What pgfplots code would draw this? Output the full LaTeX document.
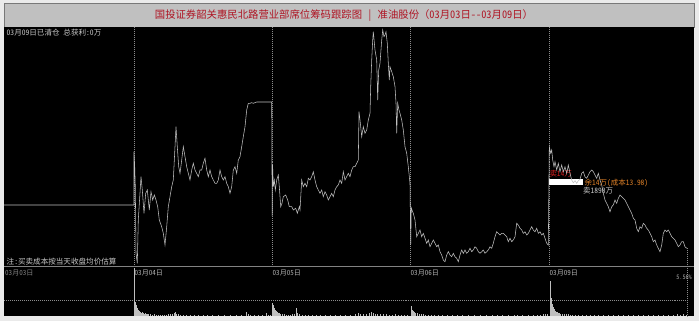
\documentclass[border=0pt]{standalone}
\usepackage{pgfplots}
\pgfplotsset{compat=1.18}
\usepackage{fontspec}
\setmainfont{Noto Sans CJK SC}[RawFeature=+hwid]
\newfontfamily\cjkfw{Noto Sans CJK SC}
\definecolor{outerbg}{RGB}{234,234,234}
\definecolor{titlebg}{RGB}{192,192,192}
\definecolor{titleframe}{RGB}{120,120,120}
\definecolor{titlered}{RGB}{175,20,35}
\definecolor{pricegray}{RGB}{192,192,192}
\definecolor{dotgray}{RGB}{140,140,140}
\definecolor{sepgray}{RGB}{130,130,130}
\definecolor{txtgray}{RGB}{200,200,200}
\definecolor{dategray}{RGB}{175,175,175}
\definecolor{dimgray}{RGB}{130,130,130}
\definecolor{volgray}{RGB}{190,190,190}
\definecolor{sellred}{RGB}{215,30,30}
\definecolor{costorange}{RGB}{225,130,40}
\begin{document}
\begin{tikzpicture}
\begin{axis}[at={(0,0)},anchor=south west,scale only axis,width=699bp,height=321bp,
  xmin=0,xmax=699,ymin=0,ymax=321,y dir=reverse,hide axis,clip=false]
\fill[outerbg] (axis cs:0,0) rectangle (axis cs:699,321);
\filldraw[fill=titlebg,draw=titleframe,line width=0.5pt] (axis cs:4,3) rectangle (axis cs:694,27);
\fill[black] (axis cs:4,27) rectangle (axis cs:694,316);
\node[text=titlered,font=\fontsize{10.4}{12}\selectfont,inner sep=0] at (axis cs:344,15.5)
  {国投证券韶关惠民北路营业部席位筹码跟踪图 | 准油股份{\cjkfw （}03月03日-{}-03月09日{\cjkfw ）}};
% separators and grid
\draw[sepgray,line width=0.6pt] (axis cs:4,266) -- (axis cs:694,266);
\draw[dotgray,line width=0.5pt,dash pattern=on 1pt off 1pt] (axis cs:134,27) -- (axis cs:134,266);
\draw[dotgray,line width=0.5pt,dash pattern=on 1pt off 1pt] (axis cs:272,27) -- (axis cs:272,266);
\draw[dotgray,line width=0.5pt,dash pattern=on 1pt off 1pt] (axis cs:410,27) -- (axis cs:410,266);
\draw[dotgray,line width=0.5pt,dash pattern=on 1pt off 1pt] (axis cs:549,27) -- (axis cs:549,266);
\draw[dotgray,line width=0.5pt,dash pattern=on 1pt off 1pt] (axis cs:687,248) -- (axis cs:687,316);
\draw[dotgray,line width=0.5pt,dash pattern=on 1pt off 1pt] (axis cs:4,300) -- (axis cs:687,300);
% sell box and label
\fill[white] (axis cs:549.3,179.3) rectangle (axis cs:583,185);
\node[anchor=west,text=sellred,font=\fontsize{7.5}{9}\selectfont,inner sep=0] at (axis cs:549.3,174) {卖14万};
% price line
\addplot[pricegray,line width=0.55pt,mark=none] coordinates {
(4,205)(134,205)(134,151.7)(134.7,166.7)(135.3,186.7)(136,253.3)(137.3,263.3)(138.3,220)(141,176.7)
(142.3,190)(144,213.3)(145.7,193.3)(147.3,190)(149.3,210)(151,191.7)(152.7,200)(154.3,195)(156,200)
(157.7,206.7)(159.3,220)(161.7,226.7)(163.3,233.3)(165,245)(166.7,226.7)(168.3,206.7)(170,196.7)
(171.7,186.7)(173.3,180)(175,146.7)(176,126.7)(177.3,146.7)(178.7,166.7)(180,173.3)(181.3,163.3)
(183.3,146.7)(185,156.7)(186.7,166.7)(188.3,173.3)(190,180)(191.7,170)(193.3,163.3)(195,170)
(196.7,173.3)(198.3,176.7)(200,170)(201.7,170)(203.3,163.3)(205,158.3)(206.7,170)(208.3,176.7)
(210,170)(211.7,176.7)(213.3,180)(215,183.3)(216.7,183.3)(218.3,180)(220,170)(221.7,176.7)
(223.3,180)(225,176.7)(226.7,183.3)(228.3,186.7)(230,193.3)(231.7,186.7)(233.3,170)(235,166.7)
(236.7,173.3)(238.3,160)(240,156.7)(241.7,146.7)(243.3,136.7)(245,126.7)(246.7,110)(248.3,103.3)
(250,103.3)(251.7,102.7)(253.3,103.3)(256.7,102)(266.7,102)(271.7,102)
(272.2,216)(272.6,165)(273.3,186.7)(274.3,180)(275.3,190)(276.7,180)(278.3,175)(279.3,186.7)
(280.7,206.7)(282,203.3)(283.3,196.7)(285.7,195)(287.7,200)(289.3,206.7)(291.7,206.7)(293.3,210)
(295.7,208.3)(297.3,213.3)(299.3,206.7)(300,210)
(301.7,180)(303.3,186.7)(305,183.3)(306.7,186.7)(308.3,178.3)(310,180)(311.7,176.7)(313.3,171.7)
(315,180)(316.7,186.7)(318.3,190)(320,193.3)(321.7,190)(323.3,196.7)(325,191.7)(326.7,195)
(328.3,200)(330,196.7)(331.7,193.3)(333.3,196.7)(335,190)(336.7,186.7)(338.3,185)(340,180)
(341.7,183.3)(343.3,171.7)(345,180)(346.7,176.7)(348.3,173.3)(350,176.7)(351.7,170)(353.3,166.7)
(355,166.7)(356.7,163.3)(358.3,160)(359,111.7)(360,120)(361.7,136.7)(363.3,126.7)(365,133.3)
(366.7,130)(368.3,120)(370,113.3)(370.7,86.7)(371.7,60)(372.7,40)(373.3,31.7)(375,50)(376.7,60)
(377.7,100)(378.7,70)(380,63.3)(381.7,40)(382.7,30)(384,36.7)(385,35)(386,31.7)(387.3,43.3)
(388.3,63.3)(389.3,80)(390,66.7)(391.7,71.7)(393.3,76.7)(395,86.7)(396,103.3)(396.7,133.3)
(397.7,103.3)(399,110)(400,113.3)(401.7,120)(403.3,130)(405,146.7)(406.7,153.3)(408.3,166.7)
(410,183.3)(410.7,245)(411.3,208)
(412,210)(413.3,213.3)(415,220)(416.7,236.7)(418.3,233.3)(420,230)(421.7,236.7)(423.3,233.3)
(425,238.3)(426.7,243.3)(428.3,240)(430,246.7)(431.7,243.3)(433.3,240)(435,243.3)(436.7,246.7)
(438.3,245)(440,251.7)(441.7,255)(443.3,260)(445,261.7)(446.7,255)(448.3,251.7)(450,255)
(451.7,256.7)(453.3,253.3)(455,256.7)(456.7,258.3)(458.3,261.7)(460,255)(461.7,250)(463.3,253.3)
(465,250)(466.7,253.3)(468.3,251.7)(470,248.3)(471.7,251.7)(473.3,250)(475,246.7)(476.7,248.3)
(478.3,251.7)(480,253.3)(481.7,251.7)(483.3,250)(485,253.3)(486.7,251.7)(488.3,250)(490,246.7)
(491.7,248.3)(493.3,243.3)(495,236.7)(496.7,231.7)(498.3,233.3)(500,235)(501.7,233.3)(503.3,233.3)
(505,235)(506.7,236.7)(508.3,241.7)(510,238.3)(511.7,241.7)(513.3,240)(515,236.7)(516.7,223.3)
(518.3,225)(520,228.3)(521.7,230)(523.3,233.3)(525,231.7)(526.7,235)(528.3,233.3)(530,230)
(531.7,226.7)(533.3,230)(535,231.7)(536.7,228.3)(538.3,233.3)(540,231.7)(541.7,235)(543.3,233.3)
(545,238.3)(546.7,243.3)(548.3,245)
(549.3,146.7)(550.7,153.3)(551.7,150)(552.7,160)(554,166.7)(555,161.7)(556.7,170)(558.3,163.3)
(560,171.7)(561.7,165)(563.3,171.7)(565,166.7)(566.7,173.3)(568.3,165)(570,173.3)(571.7,180)
(573.3,182.7)(575,180.7)(576.7,183.3)(578.3,180.7)(580,179.3)(581.7,173.3)(583.3,171.7)(585,176.7)
(586.7,178.3)(588.3,175)(590,171.7)(591.7,170)(593.3,171.7)(595,175)(596.7,178.3)(598.3,173.3)
(600,180)(601.7,185)(603.3,193.3)(605,200)(606.7,203.3)(608.3,206.7)(610,211.7)(611.7,206.7)
(613.3,205)(615,200)(616.7,203.3)(618.3,198.3)(620,195)(621.7,196.7)(623.3,198.3)(625,200)
(626.7,203.3)(628.3,206.7)(630,210)(631.7,213.3)(633.3,218.3)(635,220)(636.7,228.3)(638.3,231.7)
(640,226.7)(641.7,228.3)(643.3,223.3)(645,225)(646.7,228.3)(648.3,230)(650,233.3)(651.7,236.7)
(653.3,241.7)(655,240)(656.7,245)(658.3,248.3)(660,251.7)(661.7,245)(663.3,233.3)(665,230)
(666.7,231.7)(668.3,230)(670,233.3)(671.7,236.7)(673.3,238.3)(675,240)(676.7,243.3)(678.3,246.7)
(680,245)(681.7,241.7)(683.3,241.7)(685,246.7)(686.7,248.3)
};
% texts
\node[anchor=west,text=txtgray,font=\fontsize{7.6}{9}\selectfont,inner sep=0] at (axis cs:6.5,33) {03月09日已清仓 总获利:0万};
\node[anchor=west,text=txtgray,font=\fontsize{7.6}{9}\selectfont,inner sep=0] at (axis cs:6.5,261.5) {注:买卖成本按当天收盘均价估算};
\node[anchor=west,text=dimgray,font=\fontsize{7.1}{9}\selectfont,inner sep=0] at (axis cs:5,273) {03月03日};
\node[anchor=west,text=dategray,font=\fontsize{7.1}{9}\selectfont,inner sep=0] at (axis cs:134.5,273) {03月04日};
\node[anchor=west,text=dategray,font=\fontsize{7.1}{9}\selectfont,inner sep=0] at (axis cs:272.5,273) {03月05日};
\node[anchor=west,text=dategray,font=\fontsize{7.1}{9}\selectfont,inner sep=0] at (axis cs:410.5,273) {03月06日};
\node[anchor=west,text=dategray,font=\fontsize{7.1}{9}\selectfont,inner sep=0] at (axis cs:549.5,273) {03月09日};
\node[anchor=east,text=dategray,font=\fontsize{6.2}{8}\selectfont,inner sep=0] at (axis cs:692,277.5) {5.56\%};
\node[anchor=west,text=costorange,font=\fontsize{7.5}{9}\selectfont,inner sep=0] at (axis cs:584.5,183.5) {余14万(成本13.98)};
\node[anchor=west,text=txtgray,font=\fontsize{7.5}{9}\selectfont,inner sep=0] at (axis cs:583,190.5) {卖1898万};
\end{axis}
\begin{axis}[at={(0,5bp)},anchor=south west,scale only axis,width=699bp,height=50bp,
  xmin=0,xmax=699,ymin=0,ymax=50,hide axis,clip=false]
\addplot[ycomb,volgray,line width=0.8pt,mark=none] coordinates {
(134.5,48)(135.5,14)(136.5,11)(137.5,8)(138.5,6)(139.5,5)(140.5,4)(141.5,3)(142.5,4)(143.5,3)(144.5,2)
(145.5,3)(146.5,2)(147.5,2)(148.5,2)(150,2)(152,1.5)(154,2)(156,1)(158,1.5)(160,1)(162,1.5)(164,1)
(166,1.5)(168,2)(170,2)(172,2.5)(174,3.5)(175,4)(176,2.5)(178,2)(180,1.5)(183,1)(186,1)(190,1)
(194,0.8)(198,1)(203,0.8)(207,1)(212,0.8)(218,1)(224,0.8)(230,1)(236,1.2)(241,1.5)(246,4)(248,2.5)
(250,1)(254,1)(258,0.8)(262,1)(266,3)(268,1)(270,1)
(272.5,13)(273.5,11)(274.5,8)(275.5,6)(276.5,5)(277.5,4)(278.5,3)(279.5,3)(280.5,2.5)(282,2)(284,2)
(286,1.5)(288,1.5)(290,1.5)(292,2)(294,2)(296,8)(297,3)(299,2)(302,1.5)(305,1)(308,1.5)(312,1)
(316,0.8)(320,1)(325,0.8)(330,1)(335,1)(340,1.5)(345,1)(350,1.5)(355,2)(358,3)(360,2.5)(363,2)
(366,2)(369,3)(371,4.5)(373,3)(375,2.5)(377,2)(380,2.5)(383,2)(386,2)(389,1.5)(392,1.5)(395,2)
(398,1.5)(401,1)(404,1)(407,1.5)
(411.5,10)(412.5,6)(413.5,5)(414.5,4)(415.5,3)(417,3)(419,2.5)(421,2)(423,2)(425,1.5)(428,1.5)
(431,1)(434,1)(438,1)(442,0.8)(447,0.8)(452,1)(457,0.8)(462,0.8)(468,1)(474,0.8)(480,1)(486,0.8)
(492,1)(497,1.5)(502,1)(508,0.8)(514,1)(517,1.5)(522,1)(528,1)(533,1.2)(537,1.5)(540,1.5)(543,2)
(545,2.5)(547,2)
(550,35)(551,18)(552,12)(553,9)(554,7)(555,5)(556,4)(557,4)(558,3)(559,3)(560,2.5)(562,2.5)(564,2)
(566,2.5)(568,2)(570,1.5)(572,1.5)(575,1)(578,1)(582,1)(586,1.5)(590,1)(594,1)(598,0.8)(603,1)
(608,0.8)(613,1)(618,1)(623,0.8)(628,1)(633,1)(638,0.8)(643,1)(648,1)(653,0.8)(658,1.2)(663,1)
(668,0.8)(673,1.5)(677,2)(680,1.5)(683,2)(686,1.5)
};
\end{axis}
\end{tikzpicture}
\end{document}
